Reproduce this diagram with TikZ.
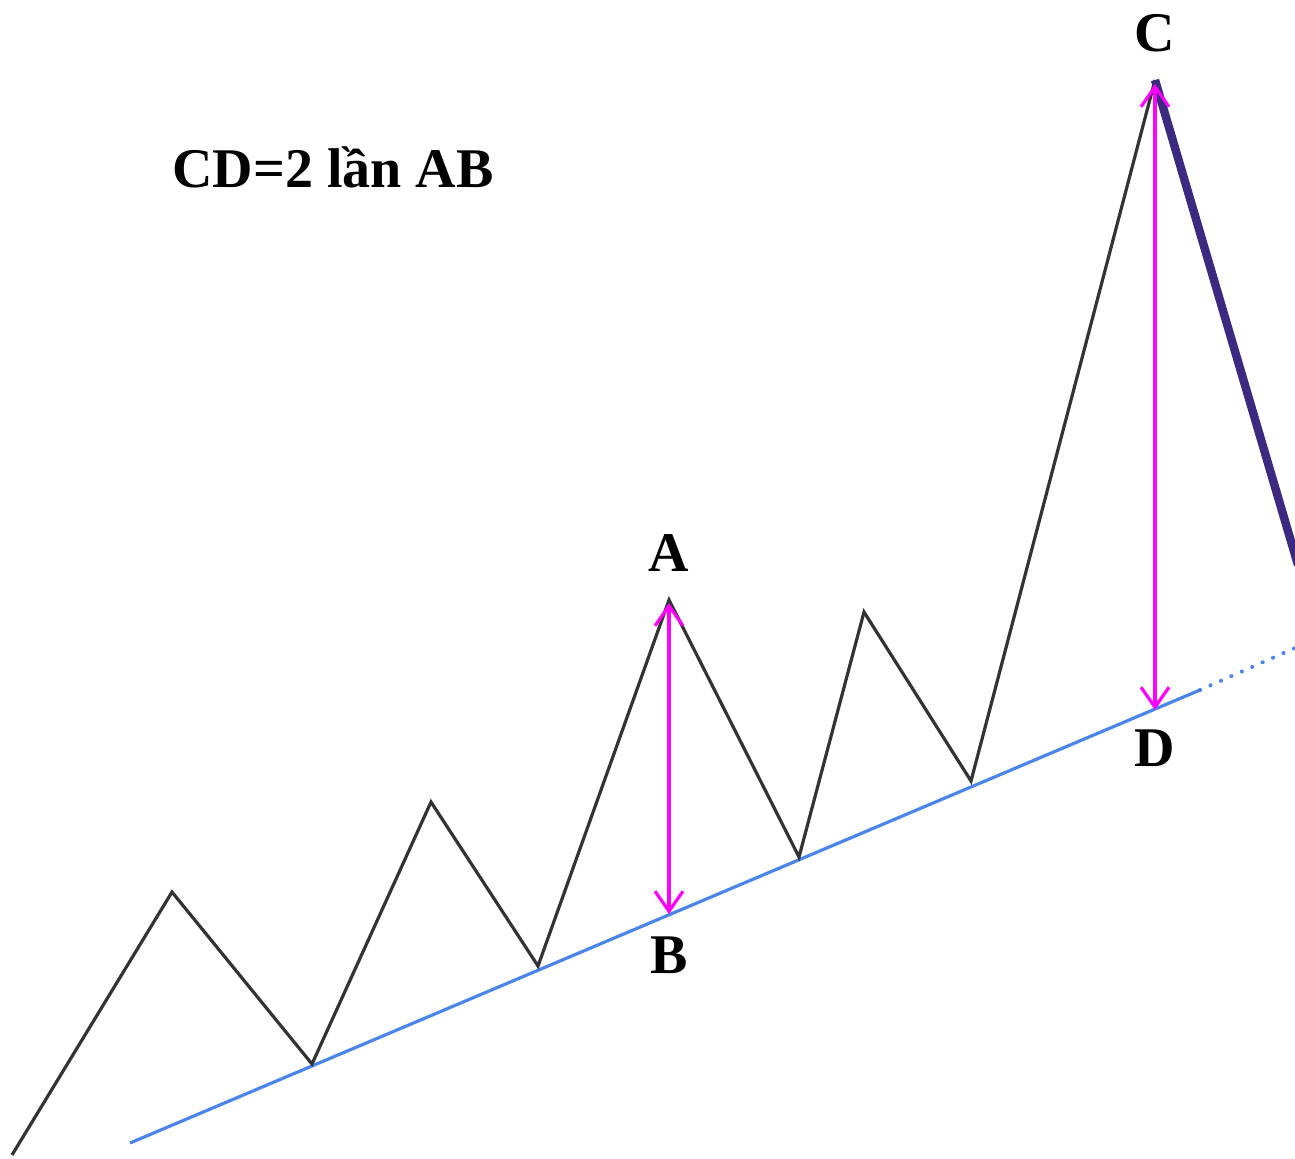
\documentclass[tikz,border=0pt]{standalone}
\usepackage{fontspec}
\setmainfont{Liberation Serif}
\usetikzlibrary{arrows.meta}
\definecolor{zig}{HTML}{333333}
\definecolor{trend}{HTML}{4A86E8}
\definecolor{mag}{HTML}{FF00FF}
\definecolor{purp}{HTML}{3B2A80}
\tikzset{
  zigline/.style={draw=zig, line width=1.6pt, line join=miter},
  trendline/.style={draw=trend, line width=1.6pt},
  measure/.style={draw=mag, line width=1.6pt, {Straight Barb[length=10pt,width=14pt]}-{Straight Barb[length=10pt,width=14pt]}},
  lbl/.style={font=\bfseries\fontsize{28}{30}\selectfont, inner sep=0pt},
  ttl/.style={font=\bfseries\fontsize{28}{30}\selectfont, inner sep=0pt}
}
\begin{document}
\begin{tikzpicture}[x=0.5pt,y=-0.5pt]
\useasboundingbox (0,0) rectangle (1295,1158);
\coordinate (p0) at (12,1155);
\coordinate (p1) at (172,892);
\coordinate (p2) at (312,1064);
\coordinate (p3) at (431,802);
\coordinate (p4) at (538,966);
\coordinate (pA) at (669,600);
\coordinate (p6) at (799,857);
\coordinate (p7) at (864,612);
\coordinate (p8) at (971,781);
\coordinate (pC) at (1155,80);
\coordinate (pE) at (1298,565);
\coordinate (t0) at (130,1143);
\coordinate (t1) at (1200,690);
\coordinate (t2) at (1295,648);
\coordinate (aT) at (669,603);
\coordinate (aB) at (669,914);
\coordinate (cT) at (1155,84);
\coordinate (cB) at (1155,710);
\draw[trendline] (t0) -- (t1);
\draw[trendline, line width=2pt, line cap=round, dash pattern=on 0.1pt off 5.6pt] (t1) -- (t2);
\draw[zigline] (p0) -- (p1) -- (p2) -- (p3) -- (p4) -- (pA) -- (p6) -- (p7) -- (p8) -- (pC);
\draw[draw=purp, line width=4.2pt] (pC) -- (pE);
\draw[measure] (aT) -- (aB);
\draw[measure] (cT) -- (cB);
\node[lbl] (lC) at (1155,33) {C};
\node[lbl] (lA) at (669,553) {A};
\node[lbl] (lB) at (669,955) {B};
\node[lbl] (lD) at (1155,748) {D};
\node[ttl] (title) at (333,167) {CD=2 lần AB};
\end{tikzpicture}
\end{document}
